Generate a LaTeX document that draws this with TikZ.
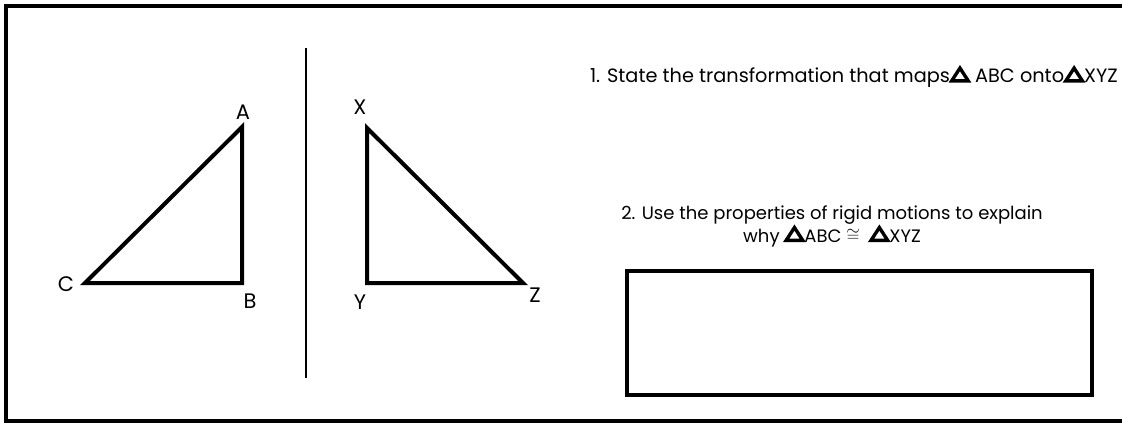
\documentclass[tikz,border=0pt]{standalone}
\usepackage{fontspec}
\setmainfont{Poppins}
\newcommand{\tri}{\tikz[baseline=0pt]\draw[line width=3.4pt,line join=miter] (1.7pt,1.7pt)--(18.3pt,1.7pt)--(10pt,14.5pt)--cycle;}
\begin{document}
\begin{tikzpicture}[x=1pt,y=-1pt,
  frame/.style={line width=4pt},
  figline/.style={line width=4pt,line join=miter},
  lbl/.style={font=\fontsize{21}{24}\selectfont,inner sep=0pt},
  txt/.style={font=\fontsize{18}{23}\selectfont,inner sep=0pt,align=center}]
\useasboundingbox (0,0) rectangle (1122,423);
\draw[frame] (1130,6) -- (6,6) -- (6,421) -- (1130,421);
\coordinate (v1) at (306,48);
\coordinate (v2) at (306,378);
\draw[line width=1.5pt] (v1) -- (v2);
\coordinate (A) at (242,127);
\coordinate (B) at (242,283);
\coordinate (C) at (85,283);
\draw[figline] (A) -- (B) -- (C) -- cycle;
\node[lbl] (lA) at (243,112) {A};
\node[lbl] (lB) at (250,301) {B};
\node[lbl] (lC) at (66,284) {C};
\coordinate (X) at (367,128);
\coordinate (Y) at (367,283);
\coordinate (Z) at (523,283);
\draw[figline] (X) -- (Y) -- (Z) -- cycle;
\node[lbl] (lX) at (360,107) {X};
\node[lbl] (lY) at (360,302) {Y};
\node[lbl] (lZ) at (535,295) {Z};
\node[txt,font=\fontsize{19.3}{22}\selectfont,anchor=east] (t1) at (1118,77) {1. State the transformation that maps\tri\ ABC onto\tri XYZ};
\node[txt] (t2) at (832,226) {2. Use the properties of rigid motions to explain\\why \tri ABC \raisebox{1pt}{$\cong$} \ \tri XYZ};
\draw[frame] (627,271) rectangle (1092,395);
\end{tikzpicture}
\end{document}
